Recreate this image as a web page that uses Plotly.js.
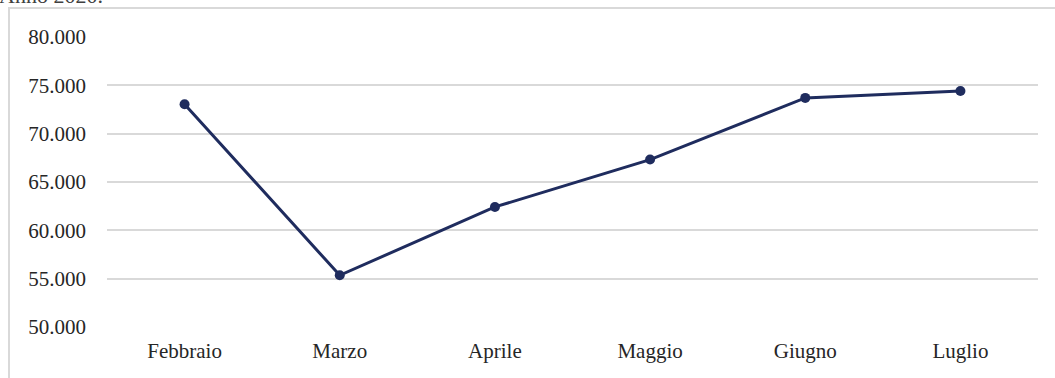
<!DOCTYPE html>
<html>
<head>
<meta charset="utf-8">
<script src="https://cdn.plot.ly/plotly-3.0.1.min.js"></script>
<style>
html,body{margin:0;padding:0;background:#fff;}
#chart{width:1055px;height:378px;}
</style>
</head>
<body>
<div id="chart"></div>
<script>
const months = ["Febbraio", "Marzo", "Aprile", "Maggio", "Giugno", "Luglio"];
const values = [73040, 55350, 62420, 67320, 73700, 74420];
const yTickVals = [50000, 55000, 60000, 65000, 70000, 75000, 80000];
const yTickText = ["50.000", "55.000", "60.000", "65.000", "70.000", "75.000", "80.000"];
const headerText = "Anno 2020.";

const W = 1055, H = 378;
const ml = 107, mr = 17, mt = 37, mb = 51;
const pw = W - ml - mr, ph = H - mt - mb;
const px = x => (x - ml) / pw;
const py = y => (H - mb - y) / ph;

const font = "'Liberation Serif', 'Times New Roman', serif";
const lineColor = "#1f2c5e";

const trace = {
  x: months,
  y: values,
  type: "scatter",
  mode: "lines+markers",
  line: {color: lineColor, width: 3},
  marker: {color: lineColor, size: 10},
  hoverinfo: "x+y"
};

const layout = {
  width: W, height: H,
  margin: {l: ml, r: mr, t: mt, b: mb, pad: 0},
  paper_bgcolor: "#ffffff",
  plot_bgcolor: "#ffffff",
  showlegend: false,
  font: {family: font, size: 21, color: "#262626"},
  xaxis: {
    type: "category",
    range: [-0.5, 5.5],
    showgrid: false,
    zeroline: false,
    showline: false,
    ticks: "",
    ticklabelstandoff: 9,
    tickfont: {family: font, size: 21, color: "#262626"},
    fixedrange: true
  },
  yaxis: {
    range: [50000, 80000],
    tickvals: yTickVals,
    ticktext: yTickText,
    showgrid: true,
    gridcolor: "#d9d9d9",
    gridwidth: 2,
    zeroline: false,
    showline: false,
    ticks: "",
    ticklabelstandoff: 20,
    tickfont: {family: font, size: 21, color: "#262626"},
    fixedrange: true
  },
  shapes: [
    {type: "line", xref: "paper", yref: "paper",
     x0: px(9), x1: px(9), y0: py(7), y1: py(H + 5),
     line: {color: "#d9d9d9", width: 2}},
    {type: "line", xref: "paper", yref: "paper",
     x0: px(8), x1: px(W + 5), y0: py(8), y1: py(8),
     line: {color: "#d9d9d9", width: 2}}
  ],
  annotations: [
    {text: headerText, xref: "paper", yref: "paper",
     x: px(-2), y: py(9), xanchor: "left", yanchor: "bottom",
     showarrow: false, borderpad: 0,
     font: {family: font, size: 22, color: "#404040"}}
  ]
};

Plotly.newPlot("chart", [trace], layout, {displayModeBar: false, staticPlot: true});
</script>
</body>
</html>
